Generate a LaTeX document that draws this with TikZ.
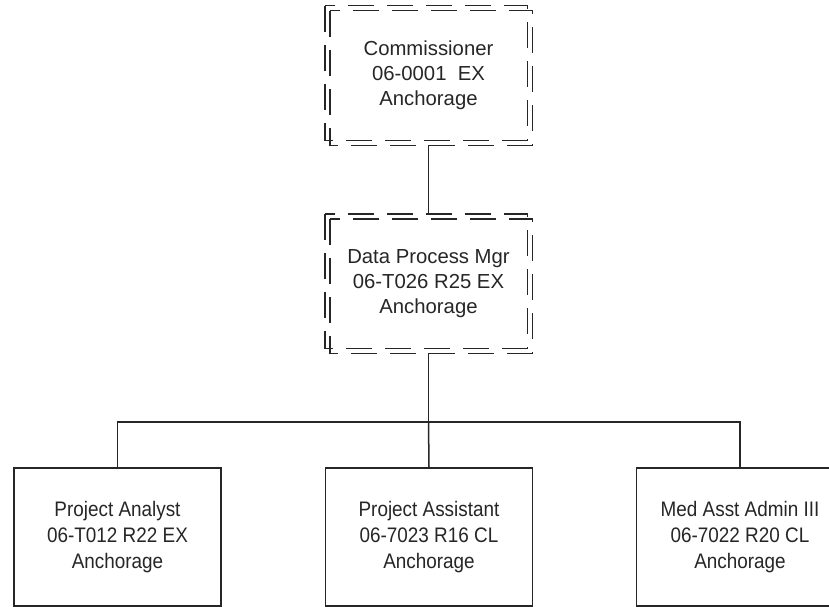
\documentclass[tikz,border=0pt]{standalone}
\usepackage{fontspec}
\setmainfont{Liberation Sans}
\newfontfamily\narrowfont[FakeStretch=0.9]{Liberation Sans}
\begin{document}
\begin{tikzpicture}[x=1pt,y=-1pt,
  dashbox/.style={draw=black!85, line width=1.4pt, dash pattern=on 26pt off 13pt},
  topbox/.style={minimum width=207pt, minimum height=139pt, inner sep=0pt, align=center,
    font=\fontsize{20.3}{25}\selectfont, text=black!85},
  leafbox/.style={draw=black!85, line width=1.7pt, minimum width=207pt, minimum height=138pt,
    inner sep=0pt, align=center, font=\narrowfont\fontsize{21}{26}\selectfont, text=black!85},
  conn/.style={draw=black!85, line width=1.5pt}]
\clip (0,0) rectangle (829,607);
\fill[white] (0,0) rectangle (829,607);
% dashed double boxes
\node[topbox] (top) at (428.5,75.5) {Commissioner\\06-0001\ \ EX\\Anchorage};
\draw[dashbox] (top.north west) rectangle ([shift={(-5,-5)}]top.south east);
\draw[dashbox] ([shift={(5,5)}]top.north west) rectangle (top.south east);
\node[topbox] (mid) at (428.5,283.5) {Data Process Mgr\\06-T026 R25 EX\\Anchorage};
\draw[dashbox] (mid.north west) rectangle ([shift={(-5,-5)}]mid.south east);
\draw[dashbox] ([shift={(5,5)}]mid.north west) rectangle (mid.south east);
% leaf boxes
\node[leafbox] (pa) at (117.5,537) {Project Analyst\\06-T012 R22 EX\\Anchorage};
\node[leafbox] (ps) at (429,537) {Project Assistant\\06-7023 R16 CL\\Anchorage};
\node[leafbox] (ma) at (740,537) {Med Asst Admin III\\06-7022 R20 CL\\Anchorage};
% connectors
\coordinate (bar) at (428.5,422);
\draw[conn] (top.south) -- (mid.north);
\draw[conn] (mid.south) -- (bar);
\draw[conn] (bar) -- (ps.north);
\draw[conn] (pa.north) |- (bar);
\draw[conn] (ma.north) |- (bar);
\end{tikzpicture}
\end{document}
